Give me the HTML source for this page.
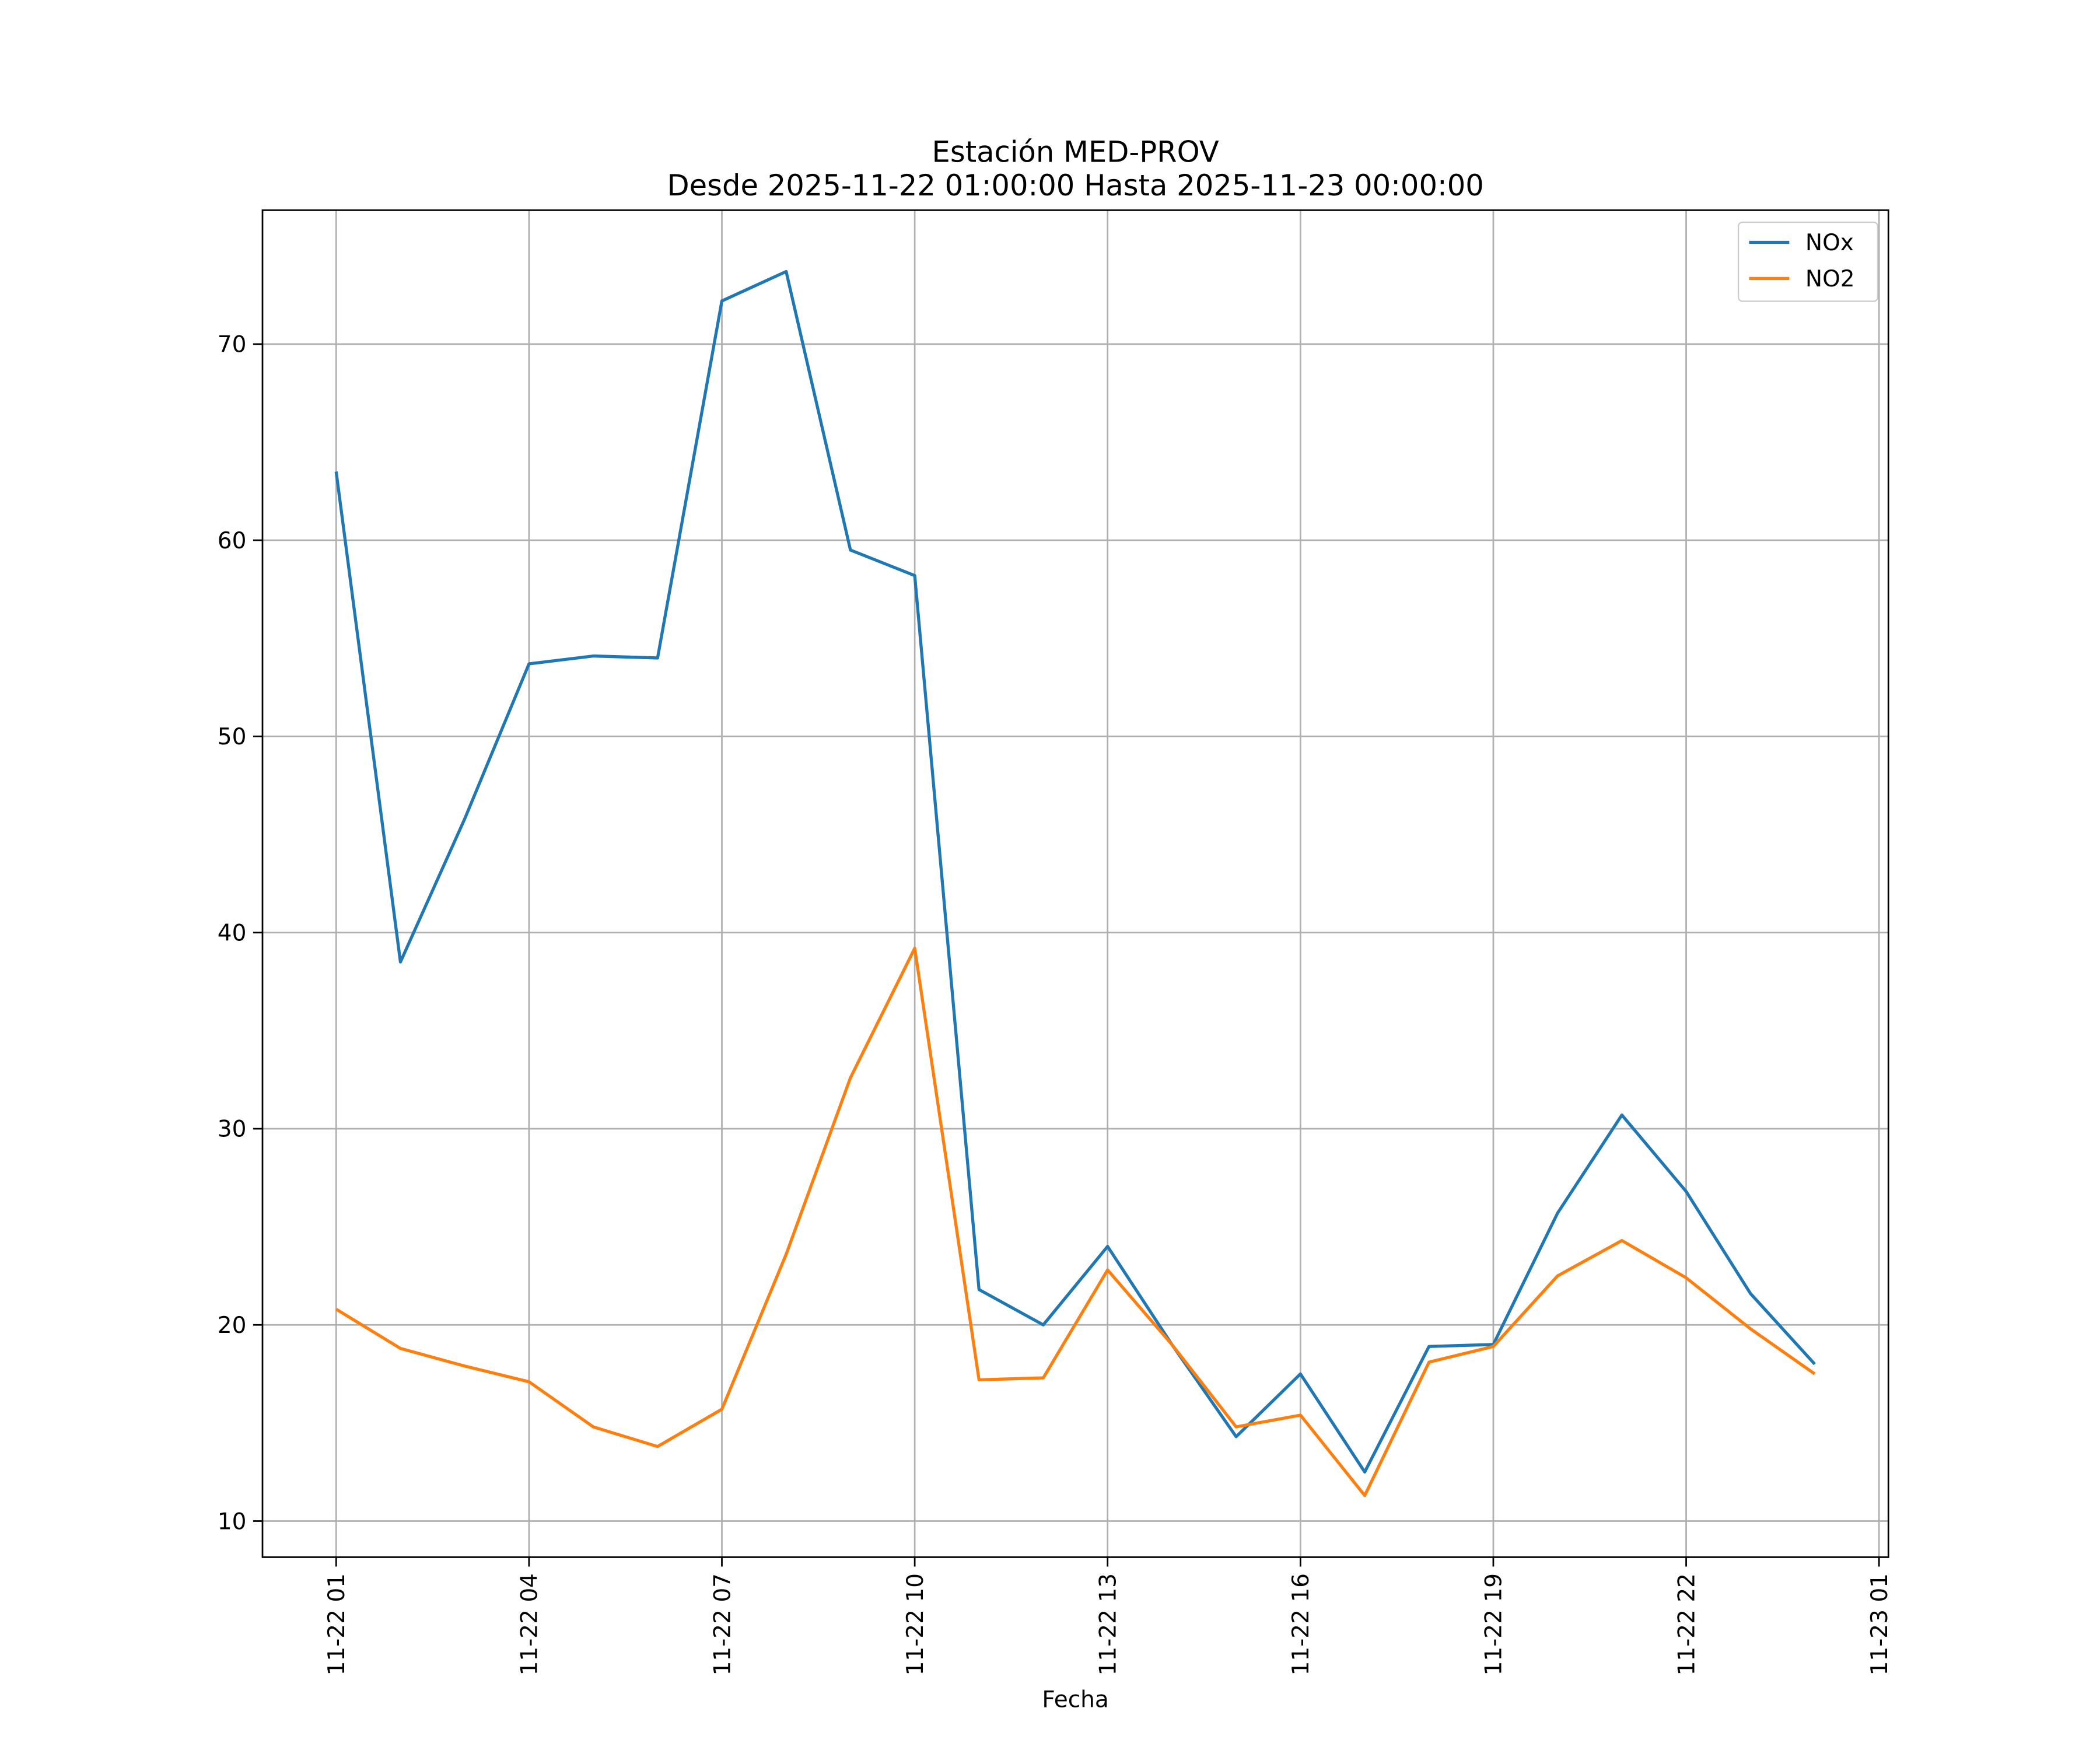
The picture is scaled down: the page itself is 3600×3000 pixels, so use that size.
<!DOCTYPE html>
<html><head><meta charset="utf-8"><style>
html,body{margin:0;padding:0;background:#fff;}
svg{display:block;font-family:"DejaVu Sans","Liberation Sans",sans-serif;}
</style></head><body>
<svg id="chart" width="3600" height="3000" viewBox="0 0 1568 1307" preserveAspectRatio="none" xmlns="http://www.w3.org/2000/svg">
<rect width="1600" height="1320" fill="#fff"/>
<g id="grid"></g>
<g id="series"></g>
<rect x="196" y="157" width="1214" height="1006" fill="none" stroke="#000" stroke-width="1.2"/>
<g id="ticks" font-size="17"></g>
<text x="803" y="121" text-anchor="middle" font-size="21.6">Estación MED-PROV</text>
<text x="803" y="146" text-anchor="middle" font-size="21.6">Desde 2025-11-22 01:00:00 Hasta 2025-11-23 00:00:00</text>
<text x="803" y="1275" text-anchor="middle" font-size="17">Fecha</text>
<g>
<rect x="1298" y="166" width="104" height="59" rx="3" fill="#fff" stroke="#ccc" stroke-width="1"/>
<line x1="1306" y1="181" x2="1336" y2="181" stroke="#1f77b4" stroke-width="2.3"/>
<text x="1348" y="187" font-size="17">NOx</text>
<line x1="1306" y1="208" x2="1336" y2="208" stroke="#ff7f0e" stroke-width="2.3"/>
<text x="1348" y="214" font-size="17">NO2</text>
</g>
</svg>
<script>
const hours = [1,2,3,4,5,6,7,8,9,10,11,12,13,14,15,16,17,18,19,20,21,22,23,24];
const noxValues = [63.5,38.5,45.8,53.7,54.1,54.0,72.2,73.7,59.5,58.2,21.8,20.0,24.0,19.0,14.3,17.5,12.5,18.9,19.0,25.7,30.7,26.8,21.6,18.0];
const no2Values = [20.8,18.8,17.9,17.1,14.8,13.8,15.7,23.6,32.6,39.2,17.2,17.3,22.8,19.0,14.8,15.4,11.3,18.1,18.9,22.5,24.3,22.4,19.8,17.5];
const xTickHours = [1,4,7,10,13,16,19,22,25];
const xTickLabels = ["11-22 01","11-22 04","11-22 07","11-22 10","11-22 13","11-22 16","11-22 19","11-22 22","11-23 01"];
const yTicks = [10,20,30,40,50,60,70];

const NS="http://www.w3.org/2000/svg";
function x(h){return 251+(h-1)*48;}
function y(v){return 1136-(v-10)*14.65;}
function mk(tag,attrs,parent){const e=document.createElementNS(NS,tag);for(const k in attrs)e.setAttribute(k,attrs[k]);parent.appendChild(e);return e;}
const grid=document.getElementById('grid'),ticks=document.getElementById('ticks'),series=document.getElementById('series');
xTickHours.forEach((h,i)=>{
  const gl=mk('line',{x1:x(h),x2:x(h),y1:157,y2:1163,stroke:'#b0b0b0','stroke-width':1.2},grid);
  
  
  const tk=mk('line',{x1:x(h),x2:x(h),y1:1163,y2:1170,stroke:'#000','stroke-width':1.2},ticks);
  
  
  const t=mk('text',{x:0,y:0,'text-anchor':'end',transform:`translate(${x(h)+6},1175) rotate(-90)`},ticks);
  t.textContent=xTickLabels[i];
  
  
});
yTicks.forEach(v=>{
  const gl=mk('line',{x1:196,x2:1410,y1:y(v),y2:y(v),stroke:'#b0b0b0','stroke-width':1.2},grid);
  
  
  const tk=mk('line',{x1:189,x2:196,y1:y(v),y2:y(v),stroke:'#000','stroke-width':1.2},ticks);
  
  
  const t=mk('text',{x:184,y:y(v)+6,'text-anchor':'end'},ticks);
  t.textContent=v;
  
  
});
function line(vals,color,name){
  const p=mk('polyline',{points:vals.map((v,i)=>x(hours[i])+','+y(v)).join(' '),fill:'none',stroke:color,'stroke-width':2.3,'stroke-linejoin':'round'},series);
  
  
}
line(noxValues,'#1f77b4','nox-line');
line(no2Values,'#ff7f0e','no2-line');
</script>
</body></html>
